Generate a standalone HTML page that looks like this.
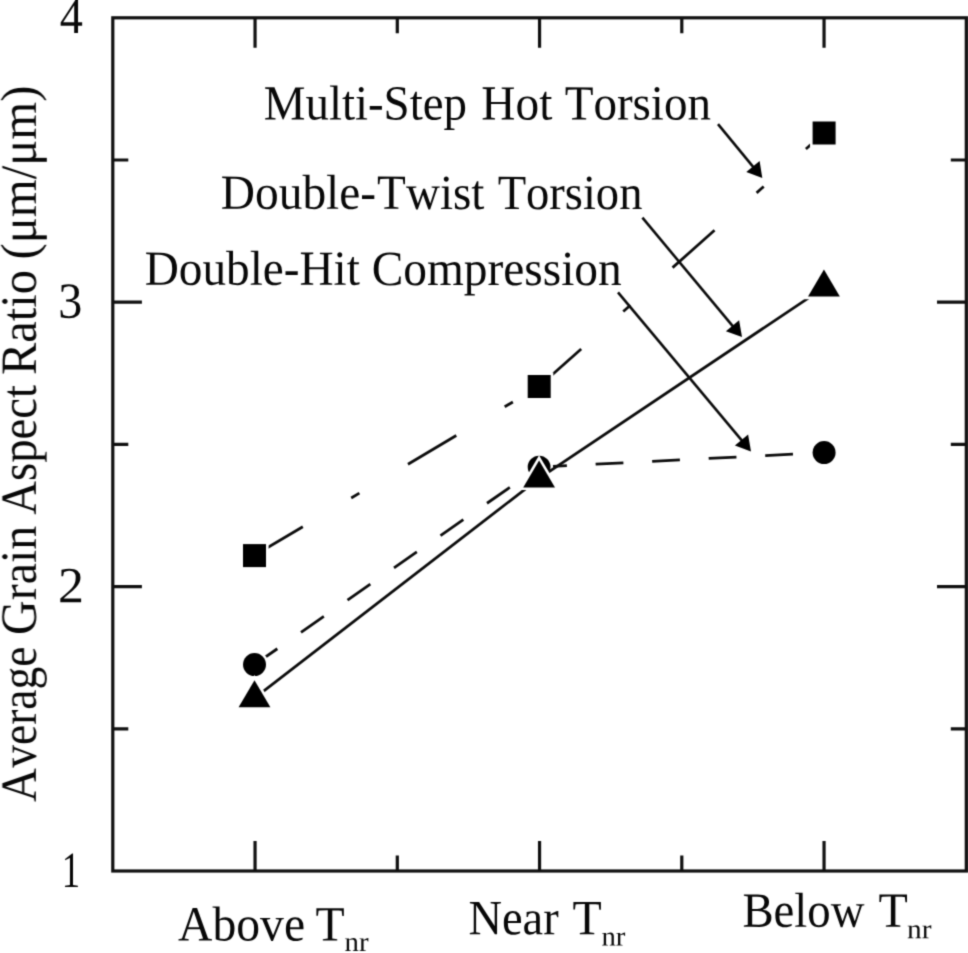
<!DOCTYPE html>
<html lang="en">
<head>
<meta charset="utf-8">
<title>Average Grain Aspect Ratio</title>
<style>
  html, body { margin: 0; padding: 0; background: #ffffff; }
  body { width: 968px; height: 953px; overflow: hidden; }
  svg { display: block; }
  text { font-family: "Liberation Serif", "DejaVu Serif", serif; fill: #080808; text-rendering: geometricPrecision; font-kerning: none; }
  .ax { stroke: #101010; stroke-width: 3.2; fill: none; stroke-linecap: butt; }
  .ln { stroke: #0c0c0c; stroke-width: 2.75; fill: none; stroke-linecap: butt; }
  .ar { stroke: #0c0c0c; stroke-width: 2.6; fill: none; stroke-linecap: butt; }
  .mk { fill: #000000; stroke: #ffffff; stroke-width: 5.2; paint-order: stroke; stroke-linejoin: miter; }
  .ah { fill: #000000; stroke: none; }
</style>
</head>
<body>
<svg width="968" height="953" viewBox="0 0 968 953">
  <defs>
    <filter id="soft" x="0" y="0" width="968" height="953" filterUnits="userSpaceOnUse" color-interpolation-filters="sRGB">
      <feConvolveMatrix order="3" kernelMatrix="1 4 1 4 16 4 1 4 1" divisor="36" edgeMode="duplicate" preserveAlpha="false"/>
    </filter>
  </defs>
  <g filter="url(#soft)">
  <rect x="0" y="0" width="968" height="953" fill="#ffffff"/>

  <!-- frame -->
  <rect class="ax" x="112.8" y="17.8" width="853.5" height="853.2"/>

  <!-- ticks -->
  <g class="ax" id="ticks">
    <!-- bottom -->
    <path d="M255.05 871V841 M539.55 871V841 M824.05 871V841 M397.3 871V855.5 M681.8 871V855.5"/>
    <!-- top -->
    <path d="M255.05 17.8V47.8 M539.55 17.8V47.8 M824.05 17.8V47.8 M397.3 17.8V33.3 M681.8 17.8V33.3"/>
    <!-- left -->
    <path d="M112.8 586.6H141.9 M112.8 302.2H141.9 M112.8 728.8H128.3 M112.8 444.4H128.3 M112.8 160H128.3"/>
    <!-- right -->
    <path d="M966.3 586.6H937 M966.3 302.2H937 M966.3 728.8H950.8 M966.3 444.4H950.8 M966.3 160H950.8"/>
  </g>

  <!-- Double-Hit Compression: dashed + circles -->
  <g id="dhc">
    <line class="ln" x1="254.5" y1="664.6" x2="539.1" y2="467.1" stroke-dasharray="27.8 28.8"/>
    <line class="ln" x1="539.1" y1="467.1" x2="824.1" y2="452.6" stroke-dasharray="27.8 28.8"/>
    <circle class="mk" cx="254.5" cy="664.6" r="11.5"/>
    <circle class="mk" cx="539.1" cy="467.1" r="11.4"/>
    <circle class="mk" cx="824.1" cy="452.6" r="11.5"/>
  </g>

  <!-- Multi-Step Hot Torsion: dash-dot + squares -->
  <g id="msht">
    <line class="ln" x1="254.5" y1="555.4" x2="539.2" y2="386.3" stroke-dasharray="56.2 56.3 9.5 56.5"/>
    <line class="ln" x1="539.2" y1="386.3" x2="824.1" y2="132.8" stroke-dasharray="56.2 56.3 9.5 56.5"/>
    <rect class="mk" x="243" y="544.1" width="23" height="23"/>
    <rect class="mk" x="527.7" y="375" width="23" height="23"/>
    <rect class="mk" x="812.6" y="121.5" width="23" height="23"/>
  </g>

  <!-- Double-Twist Torsion: solid + triangles -->
  <g id="dtt">
    <polyline class="ln" points="254.5,698.1 539.1,478.4 823.95,287.6"/>
    <polygon class="mk" points="254.5,680.15 270.4,707.15 238.6,707.15"/>
    <polygon class="mk" points="539.1,460.45 555,487.45 523.2,487.45"/>
    <polygon class="mk" points="823.95,269.6 839.85,296.6 808.05,296.6"/>
  </g>

  <!-- annotation arrows -->
  <g id="arrows">
    <line class="ar" x1="718" y1="124.1" x2="754.2" y2="168.1"/>
    <polygon class="ah" points="762.3,178.0 746.3,172.0 759.6,161.1"/>
    <line class="ar" x1="642.4" y1="217.7" x2="733.8" y2="327.3"/>
    <polygon class="ah" points="742.0,337.1 725.9,331.2 739.1,320.2"/>
    <line class="ar" x1="618" y1="292.4" x2="742.8" y2="441.6"/>
    <polygon class="ah" points="751.0,451.4 734.9,445.6 748.1,434.5"/>
  </g>

  <!-- annotation labels -->
  <g font-size="49.1">
    <text transform="rotate(0.03 488 119.5)"><tspan id="l1a" x="263.81" y="119.50" textLength="203.09" lengthAdjust="spacingAndGlyphs">Multi-Step</tspan> <tspan id="l1b" x="481.34" y="119.50" textLength="70.94" lengthAdjust="spacingAndGlyphs">Hot</tspan> <tspan id="l1c" x="564.68" y="119.50" textLength="146.28" lengthAdjust="spacingAndGlyphs">Torsion</tspan></text>
    <text transform="rotate(0.03 432 208.9)"><tspan id="l2a" x="220.82" y="208.90" textLength="155.22" lengthAdjust="spacingAndGlyphs">Double-</tspan><tspan id="l2b" x="377.12" y="208.90" textLength="107.28" lengthAdjust="spacingAndGlyphs">Twist</tspan> <tspan id="l2c" x="497.71" y="208.90" textLength="144.69" lengthAdjust="spacingAndGlyphs">Torsion</tspan></text>
    <text transform="rotate(0.03 383 284.9)"><tspan id="l3a" x="144.69" y="284.90" textLength="215.09" lengthAdjust="spacingAndGlyphs">Double-Hit</tspan> <tspan id="l3b" x="371.79" y="284.90" textLength="249.92" lengthAdjust="spacingAndGlyphs">Compression</tspan></text>
  </g>

  <!-- y tick labels -->
  <g font-size="50.7">
    <text transform="rotate(0.03 71 33)"><tspan id="d4" x="59.65" y="33.12" textLength="23.11" lengthAdjust="spacingAndGlyphs">4</tspan></text>
    <text transform="rotate(0.03 71 318)"><tspan id="d3" x="58.37" y="317.85" textLength="24.03" lengthAdjust="spacingAndGlyphs">3</tspan></text>
    <text transform="rotate(0.03 71 602)"><tspan id="d2" x="58.13" y="602.36" textLength="25.99" lengthAdjust="spacingAndGlyphs">2</tspan></text>
    <text transform="rotate(0.03 71 887)"><tspan id="d1" x="61.86" y="887.11" textLength="18.40" lengthAdjust="spacingAndGlyphs">1</tspan></text>
  </g>

  <!-- y axis title -->
  <g font-size="47.3" transform="translate(35.9 0) rotate(-90) scale(1 1.075)">
    <text><tspan id="y1a" x="-802.09" y="0.00" textLength="33.88" lengthAdjust="spacingAndGlyphs">A</tspan><tspan id="y1b" x="-767.81" y="0.00" textLength="121.36" lengthAdjust="spacingAndGlyphs">verage</tspan> <tspan id="y2" x="-634.95" y="0.00" textLength="109.21" lengthAdjust="spacingAndGlyphs">Grain</tspan> <tspan id="y3" x="-514.84" y="0.00" textLength="129.83" lengthAdjust="spacingAndGlyphs">Aspect</tspan> <tspan id="y4" x="-374.96" y="0.00" textLength="104.97" lengthAdjust="spacingAndGlyphs">Ratio</tspan> <tspan id="y5" x="-259.59" y="0.00" textLength="174.10" lengthAdjust="spacingAndGlyphs">(μm/μm)</tspan></text>
  </g>

  <!-- x tick labels -->
  <g font-size="49.2">
    <text transform="rotate(0.03 272 940)"><tspan id="xa" x="178.09" y="940.44" textLength="126.95" lengthAdjust="spacingAndGlyphs">Above</tspan> <tspan id="xaT" x="315.59" y="940.44" textLength="29.12" lengthAdjust="spacingAndGlyphs">T</tspan><tspan id="sa" x="344.57" y="951.00" textLength="24.03" lengthAdjust="spacingAndGlyphs" font-size="27.5">nr</tspan></text>
    <text transform="rotate(0.03 547 934)"><tspan id="xn" x="468.46" y="934.28" textLength="90.21" lengthAdjust="spacingAndGlyphs">Near</tspan> <tspan id="xnT" x="572.60" y="934.28" textLength="29.17" lengthAdjust="spacingAndGlyphs">T</tspan><tspan id="sn" x="601.48" y="945.57" textLength="24.00" lengthAdjust="spacingAndGlyphs" font-size="27.5">nr</tspan></text>
    <text transform="rotate(0.03 838 927)"><tspan id="xb" x="742.43" y="926.85" textLength="122.04" lengthAdjust="spacingAndGlyphs">Below</tspan> <tspan id="xbT" x="878.43" y="926.85" textLength="29.28" lengthAdjust="spacingAndGlyphs">T</tspan><tspan id="sb" x="907.04" y="938.11" textLength="24.46" lengthAdjust="spacingAndGlyphs" font-size="27.5">nr</tspan></text>
  </g>
  </g>
</svg>
</body>
</html>
